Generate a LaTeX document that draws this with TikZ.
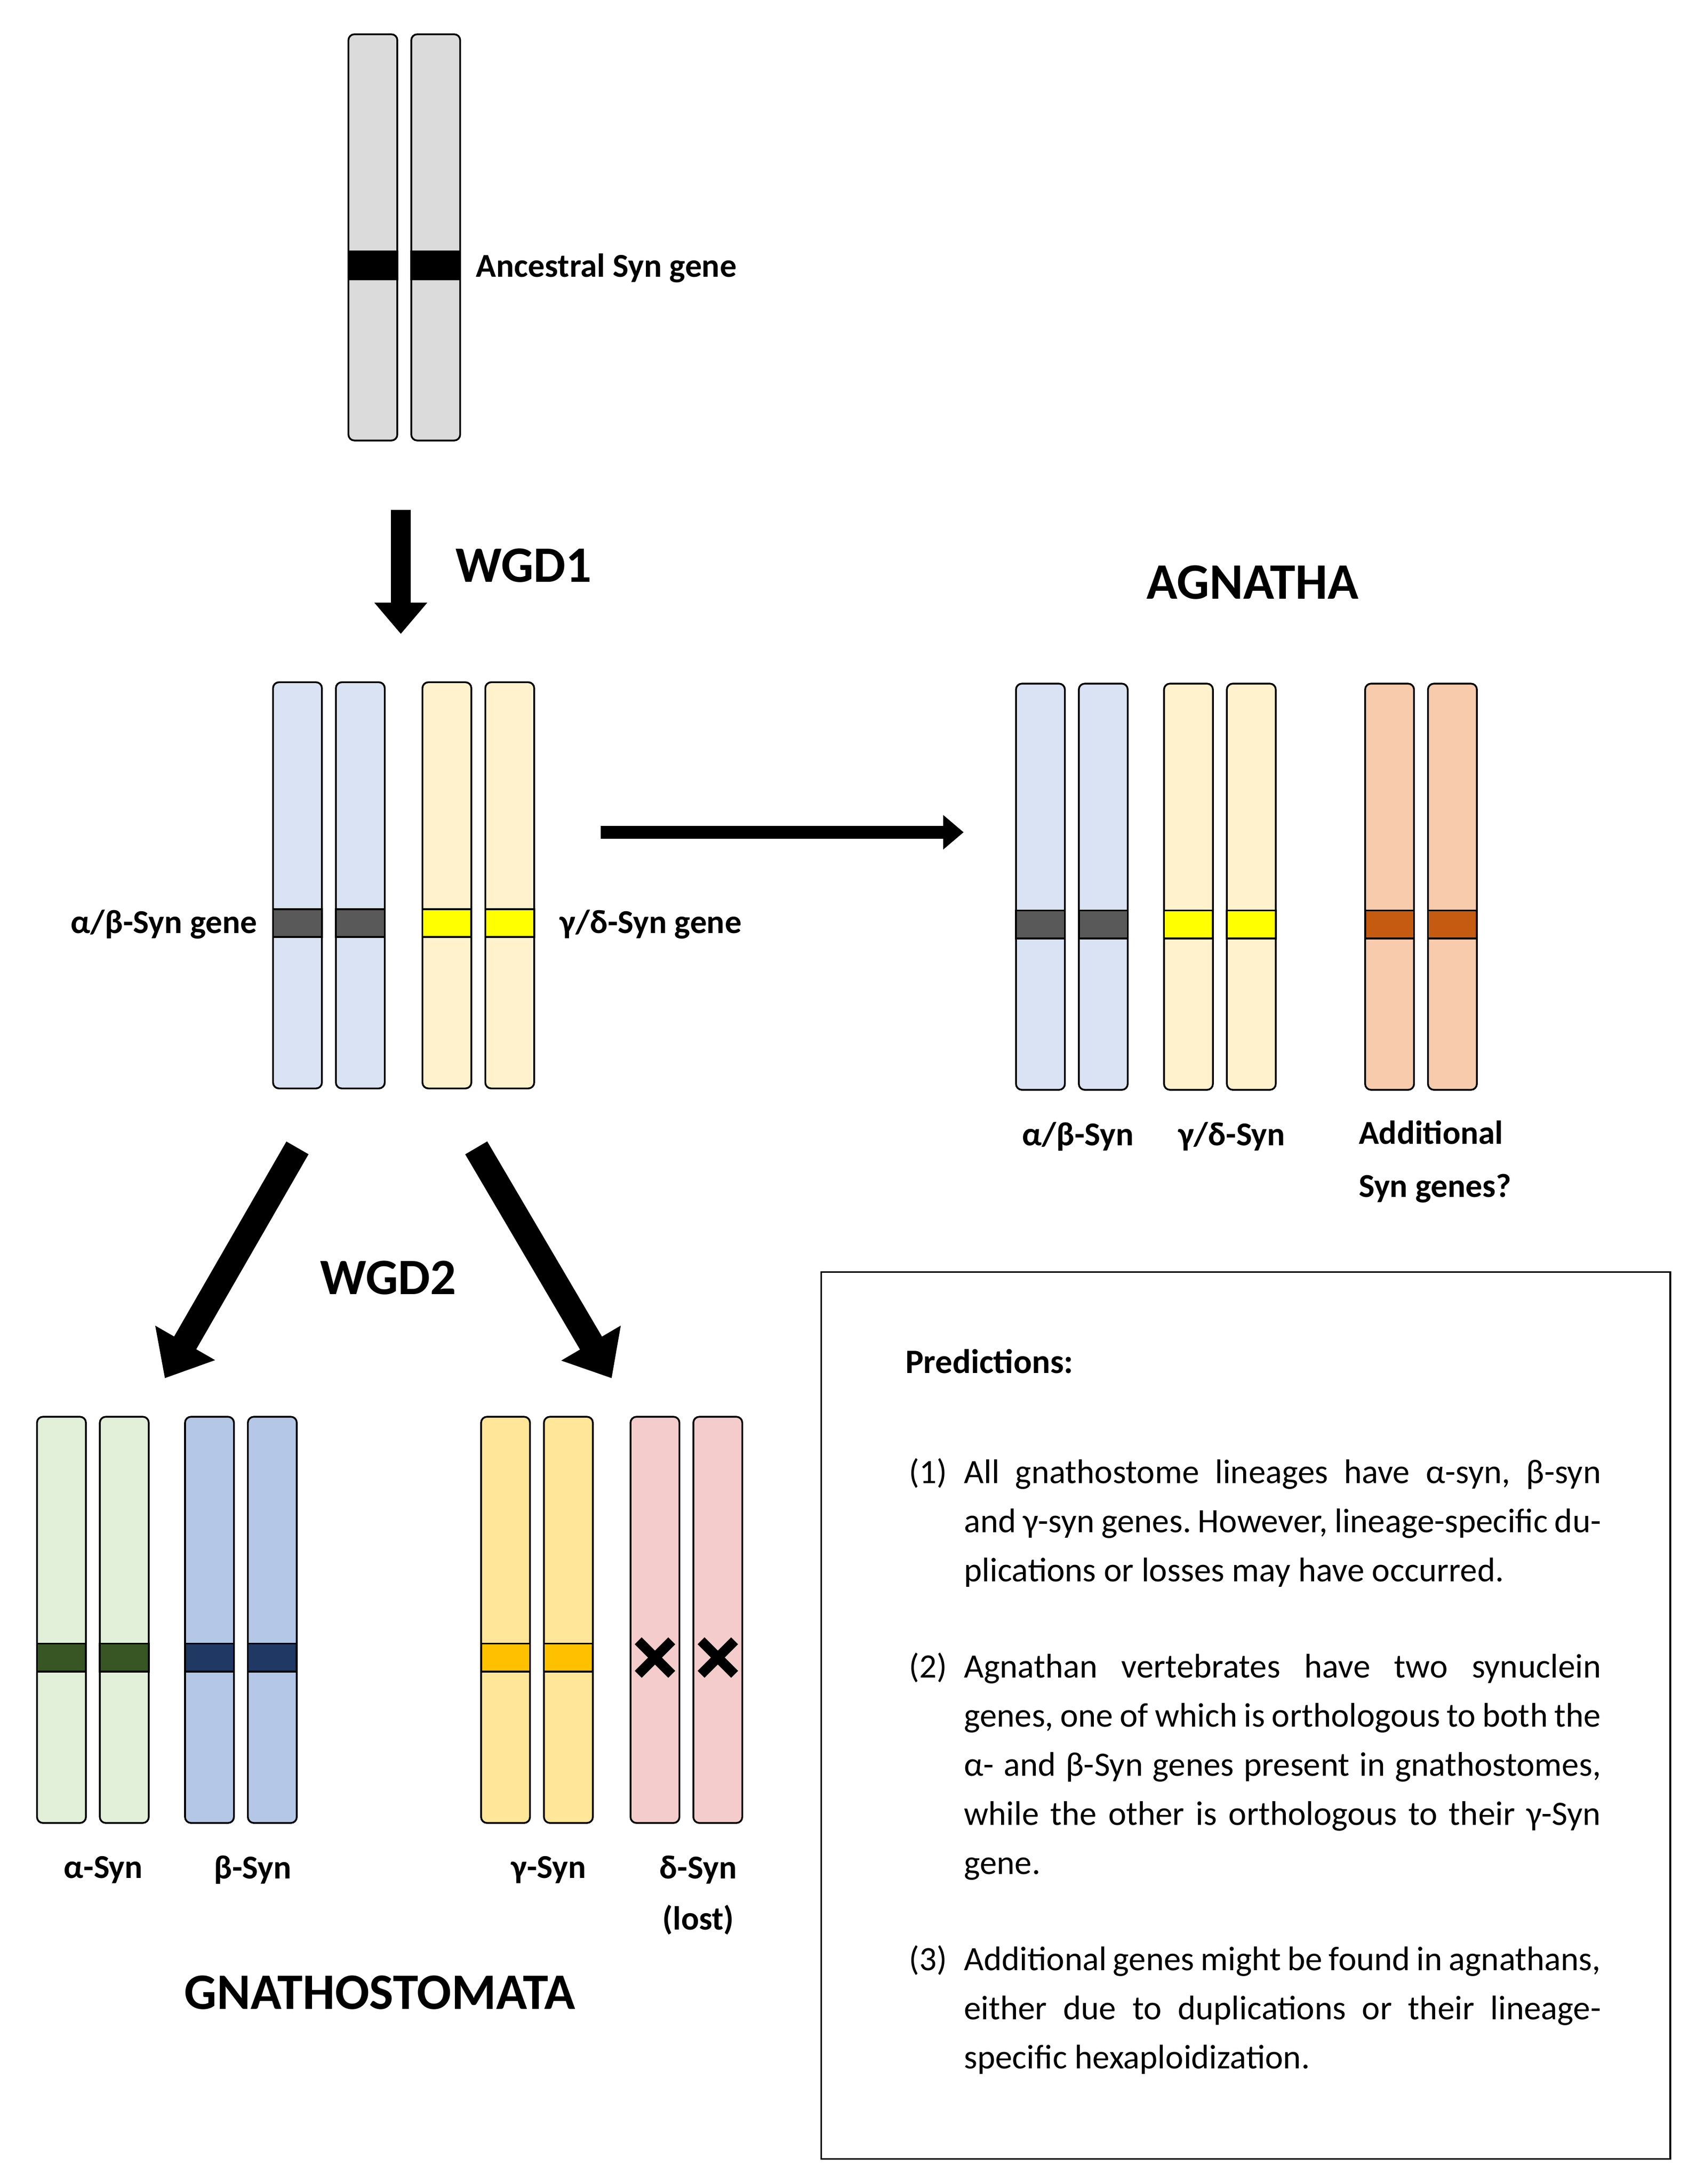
\documentclass[tikz,border=0pt]{standalone}
\usepackage{fontspec}
\setmainfont{Carlito}
\usepackage{enumitem}
\usetikzlibrary{arrows.meta}
\definecolor{abfill}{HTML}{DAE3F3}
\definecolor{gdfill}{HTML}{FFF2CC}
\definecolor{adfill}{HTML}{F8CBAD}
\definecolor{afill}{HTML}{E2F0D9}
\definecolor{bfill}{HTML}{B4C7E7}
\definecolor{gfill}{HTML}{FFE699}
\definecolor{dfill}{HTML}{F4CCCC}
\definecolor{abband}{HTML}{595959}
\definecolor{gdband}{HTML}{FFFF00}
\definecolor{adband}{HTML}{C55A11}
\definecolor{aband}{HTML}{375623}
\definecolor{bband}{HTML}{1F3864}
\definecolor{gband}{HTML}{FFC000}
\tikzset{
  chrom/.style={draw=black, line width=0.9pt, rounded corners=3pt, minimum width=0.875cm, minimum height=7.27cm, inner sep=0pt},
  band/.style={draw=black, line width=0.9pt, minimum width=0.875cm, minimum height=0.5cm, inner sep=0pt},
  lbl/.style={font=\fontsize{17}{20}\selectfont\bfseries},
  title/.style={font=\fontsize{26}{30}\selectfont\bfseries},
  bigarrow/.style={line width=#1, -{Triangle[length=1.6*#1, width=2.6*#1]}},
}
\begin{document}
\frenchspacing
\begin{tikzpicture}[x=0.025cm, y=-0.025cm]
\useasboundingbox (0,0) rectangle (1220,1564);
% ancestral pair
\foreach \x/\n in {267/1, 312/2} {
  \node[chrom, fill=black!14] (top\n) at (\x,170) {};
  \node[band, fill=black] at (\x,190) {};
}
\node[lbl, anchor=west] (anc) at (336,192) {Ancestral Syn gene};
% after WGD1
\foreach \x/\c/\b/\n in {213/abfill/abband/1, 258/abfill/abband/2, 320/gdfill/gdband/3, 365/gdfill/gdband/4} {
  \node[chrom, fill=\c] (mid\n) at (\x,634) {};
  \node[band, fill=\b] at (\x,661) {};
}
\node[lbl, anchor=east] at (189,662) {α/β-Syn gene};
\node[lbl, anchor=west] at (396,662) {γ/δ-Syn gene};
% agnatha
\foreach \x/\c/\b/\n in {745/abfill/abband/1, 790/abfill/abband/2, 851/gdfill/gdband/3, 896/gdfill/gdband/4, 995/adfill/adband/5, 1040/adfill/adband/6} {
  \node[chrom, fill=\c] (agn\n) at (\x,635) {};
  \node[band, fill=\b] at (\x,662) {};
}
\node[title] (agnatha) at (897,417) {AGNATHA};
\node[lbl] at (772,814) {α/β-Syn};
\node[lbl] at (882,814) {γ/δ-Syn};
\node[lbl, anchor=west, align=left, font=\fontsize{17}{27}\selectfont\bfseries] at (968,832) {Additional\\Syn genes?};
% gnathostomata
\foreach \x/\c/\b/\n in {44/afill/aband/1, 89/afill/aband/2, 150/bfill/bband/3, 195/bfill/bband/4, 362/gfill/gband/5, 407/gfill/gband/6} {
  \node[chrom, fill=\c] (gna\n) at (\x,1160) {};
  \node[band, fill=\b] at (\x,1187) {};
}
\foreach \x/\n in {469/7, 514/8} {
  \node[chrom, fill=dfill] (gna\n) at (\x,1160) {};
  \draw[line width=5pt] (\x-12,1175) -- (\x+12,1199) (\x-12,1199) -- (\x+12,1175);
}
\node[lbl] at (74,1339) {α-Syn};
\node[lbl] at (181,1339) {β-Syn};
\node[lbl] at (393,1339) {γ-Syn};
\node[lbl] at (500,1339) {δ-Syn};
\node[lbl] at (500,1375) {(lost)};
\node[title] (gnatho) at (272,1427) {GNATHOSTOMATA};
% arrows
\coordinate (w1a) at (287,365); \coordinate (w1b) at (287,454);
\draw[bigarrow=10pt] (w1a) -- (w1b);
\node[title] at (375,405) {WGD1};
\coordinate (ha) at (430,596); \coordinate (hb) at (690,596);
\draw[bigarrow=6.5pt] (ha) -- (hb);
\coordinate (la) at (213,822); \coordinate (lb) at (118,987);
\coordinate (ra) at (341,822); \coordinate (rb) at (438,987);
\draw[bigarrow=13pt] (la) -- (lb);
\draw[bigarrow=13pt] (ra) -- (rb);
\node[title] at (278,915) {WGD2};
% predictions
\draw[line width=0.9pt] (588,911) rectangle (1196,1546);
\node[anchor=north west, inner sep=0pt, text width=12.45cm, align=justify, font=\fontsize{17.4}{25}\selectfont] (pred) at (648,966) {%
\textbf{Predictions:}
\begin{enumerate}[label=(\arabic*), leftmargin=1.05cm, labelsep=0.3cm, itemsep=20pt, topsep=31pt]
\item All gnathostome lineages have α-syn, β-syn and γ-syn genes. However, lineage-specific duplications or losses may have occurred.
\item Agnathan vertebrates have two synuclein genes, one of which is orthologous to both the α- and β-Syn genes present in gnathostomes, while the other is orthologous to their γ-Syn gene.
\item Additional genes might be found in agnathans, either due to duplications or their lineage-specific hexaploidization.
\end{enumerate}};
\end{tikzpicture}
\end{document}
